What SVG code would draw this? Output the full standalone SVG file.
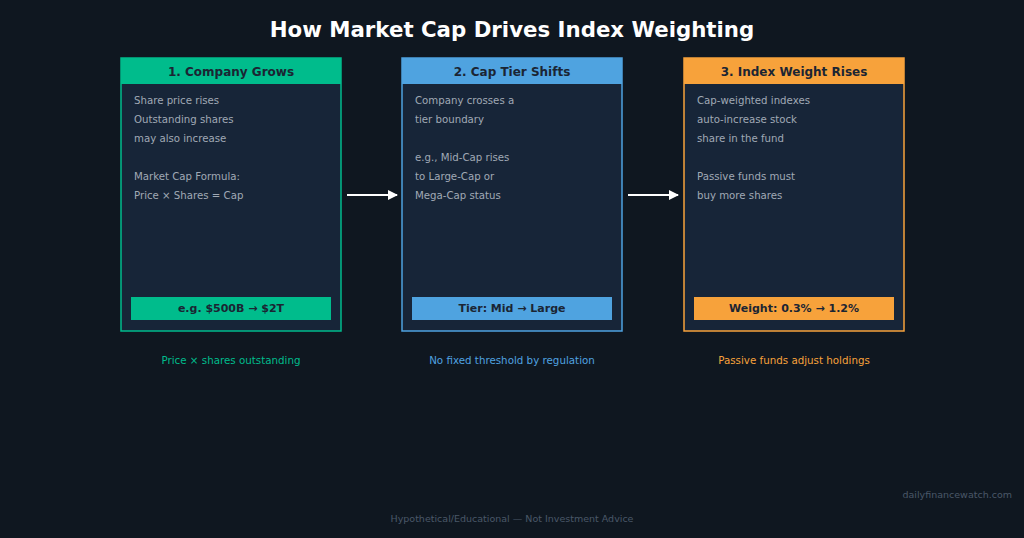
<svg xmlns="http://www.w3.org/2000/svg" width="1024" height="538" viewBox="0 0 1024 538">
<defs>
<marker id="ah" markerWidth="10" markerHeight="10" refX="9" refY="5" orient="auto" markerUnits="userSpaceOnUse">
<path d="M0,0 L10,5 L0,10 Z" fill="#ffffff"/>
</marker>
<style>
text{font-family:"DejaVu Sans","Liberation Sans",sans-serif}
.title{font-size:21.3px;font-weight:bold;fill:#ffffff;text-anchor:middle}
.hdr{font-size:12px;font-weight:bold;fill:#1b2533;text-anchor:middle}
.body{font-size:10.2px;fill:#a0a9b5}
.badge{font-size:11px;font-weight:bold;fill:#1b2533;text-anchor:middle}
.cap{font-size:10.3px;text-anchor:middle}
.box{fill:#172538;stroke-width:1.5}
.foot{font-size:9.5px;fill:#4a5868}
</style>
</defs>
<rect width="1024" height="538" fill="#0f1720"/>
<text class="title" x="512" y="37">How Market Cap Drives Index Weighting</text>

<g id="node1">
<rect class="box" x="121" y="58" width="220" height="273" stroke="#00bc8c"/>
<rect x="121" y="58" width="220" height="26" fill="#00bc8c"/>
<text class="hdr" x="231" y="76">1. Company Grows</text>
<text class="body" x="134" y="104">Share price rises</text>
<text class="body" x="134" y="123">Outstanding shares</text>
<text class="body" x="134" y="142">may also increase</text>
<text class="body" x="134" y="180">Market Cap Formula:</text>
<text class="body" x="134" y="199">Price × Shares = Cap</text>
<rect x="131" y="297" width="200" height="23" fill="#00bc8c"/>
<text class="badge" x="231" y="312">e.g. $500B → $2T</text>
<text class="cap" x="231" y="364" fill="#00bc8c">Price × shares outstanding</text>
</g>

<g id="node2">
<rect class="box" x="402" y="58" width="220" height="273" stroke="#4fa3e0"/>
<rect x="402" y="58" width="220" height="26" fill="#4fa3e0"/>
<text class="hdr" x="512" y="76">2. Cap Tier Shifts</text>
<text class="body" x="415" y="104">Company crosses a</text>
<text class="body" x="415" y="123">tier boundary</text>
<text class="body" x="415" y="161">e.g., Mid-Cap rises</text>
<text class="body" x="415" y="180">to Large-Cap or</text>
<text class="body" x="415" y="199">Mega-Cap status</text>
<rect x="412" y="297" width="200" height="23" fill="#4fa3e0"/>
<text class="badge" x="512" y="312">Tier: Mid → Large</text>
<text class="cap" x="512" y="364" fill="#4fa3e0">No fixed threshold by regulation</text>
</g>

<g id="node3">
<rect class="box" x="684" y="58" width="220" height="273" stroke="#f7a23b"/>
<rect x="684" y="58" width="220" height="26" fill="#f7a23b"/>
<text class="hdr" x="794" y="76">3. Index Weight Rises</text>
<text class="body" x="697" y="104">Cap-weighted indexes</text>
<text class="body" x="697" y="123">auto-increase stock</text>
<text class="body" x="697" y="142">share in the fund</text>
<text class="body" x="697" y="180">Passive funds must</text>
<text class="body" x="697" y="199">buy more shares</text>
<rect x="694" y="297" width="200" height="23" fill="#f7a23b"/>
<text class="badge" x="794" y="312">Weight: 0.3% → 1.2%</text>
<text class="cap" x="794" y="364" fill="#f7a23b">Passive funds adjust holdings</text>
</g>

<g id="connectors" stroke="#ffffff" stroke-width="2" fill="none">
<line x1="347" y1="195" x2="397" y2="195" marker-end="url(#ah)"/>
<line x1="628" y1="195" x2="678" y2="195" marker-end="url(#ah)"/>
</g>

<text class="foot" x="1012" y="498" text-anchor="end">dailyfinancewatch.com</text>
<text class="foot" x="512" y="522" text-anchor="middle">Hypothetical/Educational — Not Investment Advice</text>
</svg>
